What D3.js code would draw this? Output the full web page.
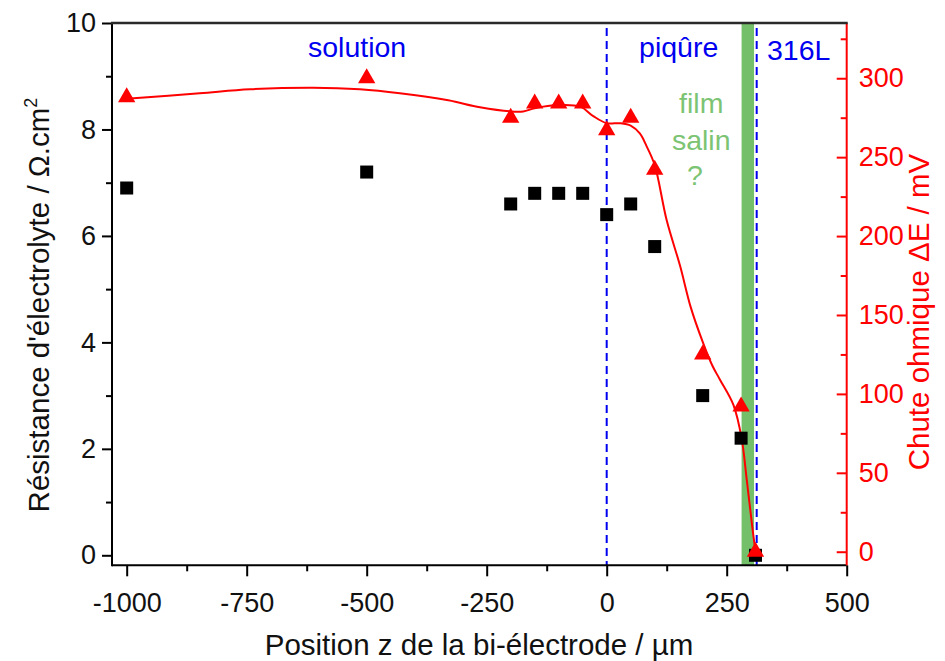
<!DOCTYPE html>
<html><head><meta charset="utf-8">
<script src="https://cdn.jsdelivr.net/npm/d3@7"></script>
<style>body{margin:0;background:#fff;} text{font-family:"Liberation Sans",Arial,sans-serif;}</style>
</head><body>
<svg id="c" width="945" height="661"></svg>
<script>
// ---- data ----
const positions = [-1000, -500, -200, -150, -100, -50, 0, 50, 100, 200, 280, 310];
const resistance = [6.9, 7.2, 6.6, 6.8, 6.8, 6.8, 6.4, 6.6, 5.8, 3.0, 2.2, 0.0];
const ohmicDrop = [288, 300, 275, 284, 284, 284, 267, 275, 242, 125, 92, 0];
const fitX = [-1000, -848, -743, -611, -514, -431, -330, -264, -200, -174, -150, -100, -55, -28, 0, 28, 50, 69, 83, 100, 125, 153, 175, 200, 220, 236, 264, 281, 292, 304, 310];
const fitY = [287, 290.5, 293, 294, 293, 290.5, 286, 281.6, 279, 279, 281, 283, 282, 276, 271.5, 271.5, 270, 265, 257, 245, 210, 181, 155, 133, 118, 109, 93, 72, 45, 14, 0];
const xTicks = [-1000, -750, -500, -250, 0, 250, 500];
const xMinor = [-875, -625, -375, -125, 125, 375];
const yLeftTicks = [0, 2, 4, 6, 8, 10];
const yLeftMinor = [1, 3, 5, 7, 9];
const yRightTicks = [0, 50, 100, 150, 200, 250, 300];
const yRightMinor = [25, 75, 125, 175, 225, 275, 325];
const pitLine = 0, metalLine = 312.5;
const saltBand = [281, 307];
const labels = [
  {t: "solution", x: -520, y: 9.36},
  {t: "piqûre", x: 150, y: 9.36},
  {t: "316L", x: 400, y: 9.3}
];
const greenLabels = [
  {t: "film", x: 197, y: 8.31},
  {t: "salin", x: 197, y: 7.61},
  {t: "?", x: 184, y: 6.95}
];

// ---- layout ----
const L = 112, R = 846.7, T = 23, B = 565.3;
const svg = d3.select("#c");
const x = d3.scaleLinear().domain([-1030.6, 500]).range([L, R]);
const yL = d3.scaleLinear().domain([-0.188, 10]).range([B, T]);
const yR = d3.scaleLinear().domain([-8.6, 335]).range([B, T]);

const blue = "#0000f0", red = "#ff0000", green = "#74c06a";
const tickFont = "27px", titleFont = "29.5px", annFont = "28.5px";

// salt film band
svg.append("rect").attr("x", x(saltBand[0])).attr("y", T)
  .attr("width", x(saltBand[1]) - x(saltBand[0])).attr("height", B - T)
  .attr("fill", green);

// dashed lines
[pitLine, metalLine].forEach(v => {
  svg.append("line").attr("x1", x(v)).attr("x2", x(v)).attr("y1", T + 5).attr("y2", B)
    .attr("stroke", blue).attr("stroke-width", 2).attr("stroke-dasharray", "8,5");
});

// fit curve
const fit = fitX.map((v, i) => [v, fitY[i]]);
svg.append("path").datum(fit)
  .attr("d", d3.line().x(d => x(d[0])).y(d => yR(d[1])).curve(d3.curveCatmullRom.alpha(0.5)))
  .attr("fill", "none").attr("stroke", red).attr("stroke-width", 2);

// squares
svg.selectAll("rect.sq").data(positions).join("rect").attr("class", "sq")
  .attr("x", (d) => x(d) - 6.5).attr("y", (d, i) => yL(resistance[i]) - 6.5)
  .attr("width", 13).attr("height", 13).attr("fill", "#000");

// triangles
const tri = d3.symbol().type(d3.symbolTriangle).size(130);
svg.selectAll("path.tr").data(positions).join("path").attr("class", "tr")
  .attr("d", tri)
  .attr("transform", (d, i) => `translate(${x(d)},${yR(ohmicDrop[i])})`)
  .attr("fill", red);

function styleTicks(g, color) {
  g.selectAll(".tick line").attr("stroke", color).attr("stroke-width", 2);
  g.selectAll(".tick text").attr("fill", color === "#000" ? "#111" : color)
    .style("font-size", tickFont).style("font-family", "Liberation Sans, Arial, sans-serif");
}

// axes
const bottom = svg.append("g").attr("transform", `translate(0,${B})`)
  .call(d3.axisBottom(x).tickValues(xTicks).tickSize(11).tickPadding(17).tickFormat(d => String(d)));
const bottomMinor = svg.append("g").attr("transform", `translate(0,${B})`)
  .call(d3.axisBottom(x).tickValues(xMinor).tickSize(6).tickFormat(""));
const left = svg.append("g").attr("transform", `translate(${L},0)`)
  .call(d3.axisLeft(yL).tickValues(yLeftTicks).tickSize(10).tickPadding(6).tickFormat(d => String(d)));
const leftMinor = svg.append("g").attr("transform", `translate(${L},0)`)
  .call(d3.axisLeft(yL).tickValues(yLeftMinor).tickSize(6).tickFormat(""));
const right = svg.append("g").attr("transform", `translate(${R},0)`)
  .call(d3.axisRight(yR).tickValues(yRightTicks).tickSize(-10).tickPadding(12).tickFormat(d => String(d)));
const rightMinor = svg.append("g").attr("transform", `translate(${R},0)`)
  .call(d3.axisRight(yR).tickValues(yRightMinor).tickSize(-6).tickFormat(""));

[bottomMinor, leftMinor, rightMinor].forEach(g => g.select(".domain").remove());
[bottom, bottomMinor, left, leftMinor].forEach(g => styleTicks(g, "#000"));
[right, rightMinor].forEach(g => styleTicks(g, red));
bottom.select(".domain").attr("d", `M${L},0H${R}`).attr("stroke", "#000").attr("stroke-width", 2);
left.select(".domain").attr("d", `M0,${T}V${B + 1}`).attr("stroke", "#000").attr("stroke-width", 2);
right.select(".domain").attr("d", `M0,${T}V${B}`).attr("stroke", red).attr("stroke-width", 2);

// top frame
svg.append("line").attr("x1", L - 1).attr("x2", R + 1).attr("y1", T).attr("y2", T)
  .attr("stroke", "#2a2a2a").attr("stroke-width", 2.5);

// titles
svg.append("text").attr("x", 479).attr("y", 655).attr("text-anchor", "middle")
  .style("font-size", titleFont).attr("fill", "#111").text("Position z de la bi-électrode / µm");
const lt = svg.append("text").attr("transform", "translate(49,305) rotate(-90)").attr("text-anchor", "middle")
  .style("font-size", titleFont).attr("fill", "#111");
lt.append("tspan").text("Résistance d'électrolyte / Ω.cm");
lt.append("tspan").attr("dy", -12).style("font-size", "18px").text("2");
svg.append("text").attr("transform", "translate(929,312) rotate(-90)").attr("text-anchor", "middle")
  .style("font-size", titleFont).attr("fill", red).text("Chute ohmique ΔE / mV");

// annotations
svg.selectAll("text.ann").data(labels).join("text").attr("class", "ann")
  .attr("x", d => x(d.x)).attr("y", d => yL(d.y)).attr("text-anchor", "middle")
  .style("font-size", annFont).attr("fill", blue).text(d => d.t);
svg.selectAll("text.gann").data(greenLabels).join("text").attr("class", "gann")
  .attr("x", d => x(d.x)).attr("y", d => yL(d.y)).attr("text-anchor", "middle")
  .style("font-size", annFont).attr("fill", "#7cc473").text(d => d.t);
</script>
</body></html>
